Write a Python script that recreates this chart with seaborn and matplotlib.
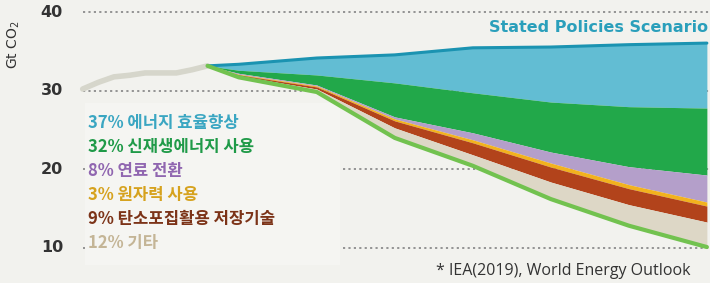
import numpy as np
import pandas as pd
import matplotlib.pyplot as plt
import matplotlib.transforms as mtransforms
from matplotlib.patches import Rectangle
import seaborn as sns

# Historical emissions (Gt CO2)
hist_years = [2010, 2011, 2012, 2013, 2014, 2015, 2016, 2017, 2018]
hist_co2 = [30.25, 31.1, 31.8, 32.0, 32.3, 32.3, 32.3, 32.7, 33.2]

# Projections: Stated Policies and the reduction wedges down to SDS
years = [2018, 2020, 2025, 2030, 2035, 2040, 2045, 2050]
steps = [33.2, 33.4, 34.2, 34.6, 35.5, 35.6, 35.9, 36.1]
efficiency = [0, 0.76, 2.16, 3.57, 5.73, 7.01, 7.90, 8.28]
renewables = [0, 0.39, 1.28, 4.33, 5.10, 6.37, 7.64, 8.53]
fuel_switch = [0, 0.12, 0.12, 0.26, 0.89, 1.40, 2.29, 3.44]
nuclear = [0, 0.07, 0.13, 0.25, 0.38, 0.51, 0.51, 0.51]
ccus = [0, 0.13, 0.26, 0.89, 1.53, 1.91, 2.04, 2.04]
other = [0, 0.19, 0.38, 1.28, 1.40, 2.17, 2.68, 3.18]

labels = ['37% 에너지 효율향상', '32% 신재생에너지 사용', '8% 연료 전환',
          '3% 원자력 사용', '9% 탄소포집활용 저장기술', '12% 기타']
yticks = [40, 30, 20, 10]

fill_colors = ['#62bdd3', '#22a84a', '#b49fca', '#f2b21e', '#b2431b', '#ddd7c6']
text_colors = ['#3aa6c2', '#1f9a48', '#9066b0', '#d6a21e', '#7c3318', '#c4b596']

sns.set_theme(style='white')
plt.rcParams['font.family'] = ['Noto Sans CJK KR', 'DejaVu Sans']

bg = '#f2f2ee'
fig = plt.figure(figsize=(7.1, 2.83), dpi=100, facecolor=bg)
ax = fig.add_axes([0, 0, 1, 1])
ax.set_facecolor(bg)
ax.set_xlim(2004.70, 2050.2)
ax.set_ylim(5.54, 41.59)
ax.axis('off')

# dotted gridlines
for v in yticks:
    ax.plot([2010, 2051], [v, v], ls=(0, (1.2, 1.8)), color='#8c8c8c', lw=1.3, zorder=1)

# light box behind the legend text
ax.add_patch(Rectangle((2010.15, 7.84), 16.35, 20.63, facecolor='#f5f5f2',
                       edgecolor='none', zorder=2))

# stacked wedges
df = pd.DataFrame({'year': years, 'steps': steps})
upper = np.array(steps, dtype=float)
for vals, col in zip([efficiency, renewables, fuel_switch, nuclear, ccus, other], fill_colors):
    lower = upper - np.array(vals)
    ax.fill_between(years, lower, upper, color=col, lw=0, zorder=3)
    upper = lower
df['sds'] = upper

sns.lineplot(x=hist_years, y=hist_co2, color='#d6d6cb', lw=4, ax=ax, zorder=4)
sns.lineplot(data=df, x='year', y='steps', color='#1b93b1', lw=2.2, ax=ax, zorder=5)
sns.lineplot(data=df, x='year', y='sds', color='#72c24f', lw=3, ax=ax, zorder=5)

# y tick labels and unit
tr = mtransforms.blended_transform_factory(fig.transFigure, ax.transData)
for v in yticks:
    ax.text(63 / 710, v, str(v), transform=tr, ha='right', va='center',
            fontsize=11.5, fontweight='bold', color='#333333', family='DejaVu Sans')
fig.text(14 / 710, 1 - 45 / 283, 'Gt CO$_2$', rotation=90, ha='center', va='center',
         fontsize=10, color='#333333', family='DejaVu Sans')

# measure labels
for i, (lab, col) in enumerate(zip(labels, text_colors)):
    fig.text(88 / 710, 1 - (123 + 24 * i) / 283, lab, ha='left', va='center',
             fontsize=12, fontweight='bold', color=col)

fig.text(708 / 710, 1 - 27 / 283, 'Stated Policies Scenario', ha='right', va='center',
         fontsize=11.5, fontweight='bold', color='#2a9fbb', family='DejaVu Sans')
fig.text(690 / 710, 1 - 271 / 283, '* IEA(2019), World Energy Outlook', ha='right',
         va='center', fontsize=11.5, color='#333333', family='Open Sans')

fig.savefig('out.png', dpi=100, facecolor=bg)
